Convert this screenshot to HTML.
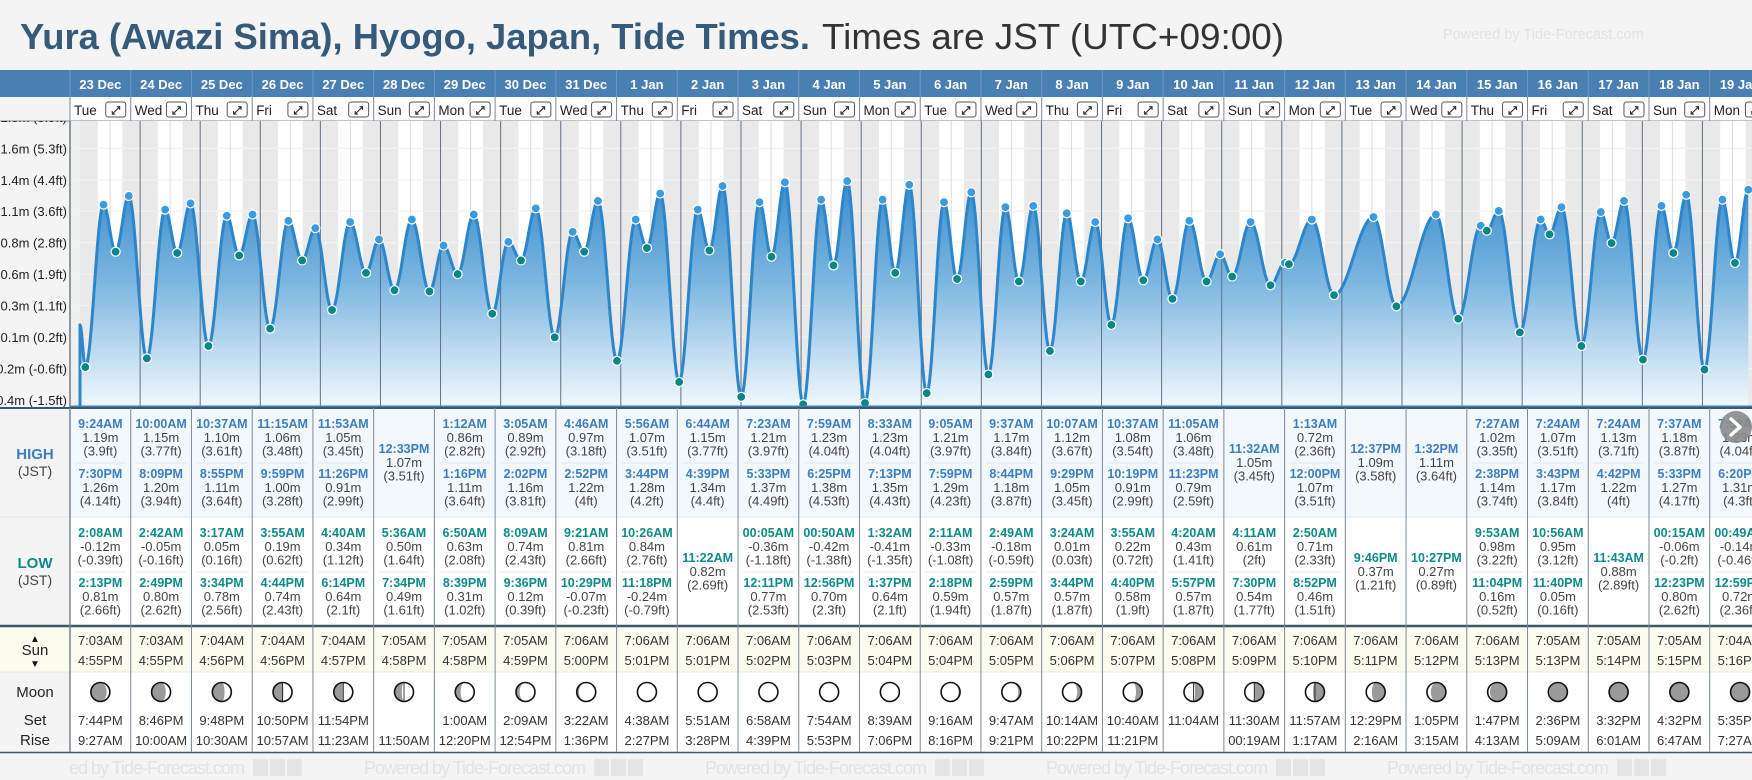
<!DOCTYPE html>
<html><head><meta charset="utf-8"><title>Yura Tide Times</title>
<style>
html,body{margin:0;padding:0;background:#f4f4f4;width:1752px;height:780px;overflow:hidden;font-family:"Liberation Sans",sans-serif;}
svg{display:block}
</style></head>
<body>
<svg id="root" xmlns="http://www.w3.org/2000/svg" width="1752" height="780" viewBox="0 0 1752 780"></svg>
<script>
// ---------- data ----------
const dates = ["23 Dec","24 Dec","25 Dec","26 Dec","27 Dec","28 Dec","29 Dec","30 Dec","31 Dec","1 Jan","2 Jan","3 Jan","4 Jan","5 Jan","6 Jan","7 Jan","8 Jan","9 Jan","10 Jan","11 Jan","12 Jan","13 Jan","14 Jan","15 Jan","16 Jan","17 Jan","18 Jan","19 Jan"];
const weekdays = ["Tue","Wed","Thu","Fri","Sat","Sun","Mon","Tue","Wed","Thu","Fri","Sat","Sun","Mon","Tue","Wed","Thu","Fri","Sat","Sun","Mon","Tue","Wed","Thu","Fri","Sat","Sun","Mon"];
const highTimes = [["9:24AM","7:30PM"],["10:00AM","8:09PM"],["10:37AM","8:55PM"],["11:15AM","9:59PM"],["11:53AM","11:26PM"],["12:33PM"],["1:12AM","1:16PM"],["3:05AM","2:02PM"],["4:46AM","2:52PM"],["5:56AM","3:44PM"],["6:44AM","4:39PM"],["7:23AM","5:33PM"],["7:59AM","6:25PM"],["8:33AM","7:13PM"],["9:05AM","7:59PM"],["9:37AM","8:44PM"],["10:07AM","9:29PM"],["10:37AM","10:19PM"],["11:05AM","11:23PM"],["11:32AM"],["1:13AM","12:00PM"],["12:37PM"],["1:32PM"],["7:27AM","2:38PM"],["7:24AM","3:43PM"],["7:24AM","4:42PM"],["7:37AM","5:33PM"],["7:58AM","6:20PM"]];
const highM = [[1.19,1.26],[1.15,1.20],[1.10,1.11],[1.06,1.00],[1.05,0.91],[1.07],[0.86,1.11],[0.89,1.16],[0.97,1.22],[1.07,1.28],[1.15,1.34],[1.21,1.37],[1.23,1.38],[1.23,1.35],[1.21,1.29],[1.17,1.18],[1.12,1.05],[1.08,0.91],[1.06,0.79],[1.05],[0.72,1.07],[1.09],[1.11],[1.02,1.14],[1.07,1.17],[1.13,1.22],[1.18,1.27],[1.23,1.31]];
const highFt = [["3.9","4.14"],["3.77","3.94"],["3.61","3.64"],["3.48","3.28"],["3.45","2.99"],["3.51"],["2.82","3.64"],["2.92","3.81"],["3.18","4"],["3.51","4.2"],["3.77","4.4"],["3.97","4.49"],["4.04","4.53"],["4.04","4.43"],["3.97","4.23"],["3.84","3.87"],["3.67","3.45"],["3.54","2.99"],["3.48","2.59"],["3.45"],["2.36","3.51"],["3.58"],["3.64"],["3.35","3.74"],["3.51","3.84"],["3.71","4"],["3.87","4.17"],["4.04","4.3"]];
const lowTimes = [["2:08AM","2:13PM"],["2:42AM","2:49PM"],["3:17AM","3:34PM"],["3:55AM","4:44PM"],["4:40AM","6:14PM"],["5:36AM","7:34PM"],["6:50AM","8:39PM"],["8:09AM","9:36PM"],["9:21AM","10:29PM"],["10:26AM","11:18PM"],["11:22AM"],["00:05AM","12:11PM"],["00:50AM","12:56PM"],["1:32AM","1:37PM"],["2:11AM","2:18PM"],["2:49AM","2:59PM"],["3:24AM","3:44PM"],["3:55AM","4:40PM"],["4:20AM","5:57PM"],["4:11AM","7:30PM"],["2:50AM","8:52PM"],["9:46PM"],["10:27PM"],["9:53AM","11:04PM"],["10:56AM","11:40PM"],["11:43AM"],["00:15AM","12:23PM"],["00:49AM","12:59PM"]];
const lowM = [[-0.12,0.81],[-0.05,0.80],[0.05,0.78],[0.19,0.74],[0.34,0.64],[0.50,0.49],[0.63,0.31],[0.74,0.12],[0.81,-0.07],[0.84,-0.24],[0.82],[-0.36,0.77],[-0.42,0.70],[-0.41,0.64],[-0.33,0.59],[-0.18,0.57],[0.01,0.57],[0.22,0.58],[0.43,0.57],[0.61,0.54],[0.71,0.46],[0.37],[0.27],[0.98,0.16],[0.95,0.05],[0.88],[-0.06,0.80],[-0.14,0.72]];
const lowFt = [["-0.39","2.66"],["-0.16","2.62"],["0.16","2.56"],["0.62","2.43"],["1.12","2.1"],["1.64","1.61"],["2.08","1.02"],["2.43","0.39"],["2.66","-0.23"],["2.76","-0.79"],["2.69"],["-1.18","2.53"],["-1.38","2.3"],["-1.35","2.1"],["-1.08","1.94"],["-0.59","1.87"],["0.03","1.87"],["0.72","1.9"],["1.41","1.87"],["2","1.77"],["2.33","1.51"],["1.21"],["0.89"],["3.22","0.52"],["3.12","0.16"],["2.89"],["-0.2","2.62"],["-0.46","2.36"]];
const sunRise = ["7:03AM","7:03AM","7:04AM","7:04AM","7:04AM","7:05AM","7:05AM","7:05AM","7:06AM","7:06AM","7:06AM","7:06AM","7:06AM","7:06AM","7:06AM","7:06AM","7:06AM","7:06AM","7:06AM","7:06AM","7:06AM","7:06AM","7:06AM","7:06AM","7:05AM","7:05AM","7:05AM","7:04AM"];
const sunSet = ["4:55PM","4:55PM","4:56PM","4:56PM","4:57PM","4:58PM","4:58PM","4:59PM","5:00PM","5:01PM","5:01PM","5:02PM","5:03PM","5:04PM","5:04PM","5:05PM","5:06PM","5:07PM","5:08PM","5:09PM","5:10PM","5:11PM","5:12PM","5:13PM","5:13PM","5:14PM","5:15PM","5:16PM"];
const moonSet = ["7:44PM","8:46PM","9:48PM","10:50PM","11:54PM","","1:00AM","2:09AM","3:22AM","4:38AM","5:51AM","6:58AM","7:54AM","8:39AM","9:16AM","9:47AM","10:14AM","10:40AM","11:04AM","11:30AM","11:57AM","12:29PM","1:05PM","1:47PM","2:36PM","3:32PM","4:32PM","5:35PM"];
const moonRise = ["9:27AM","10:00AM","10:30AM","10:57AM","11:23AM","11:50AM","12:20PM","12:54PM","1:36PM","2:27PM","3:28PM","4:39PM","5:53PM","7:06PM","8:16PM","9:21PM","10:22PM","11:21PM","","00:19AM","1:17AM","2:16AM","3:15AM","4:13AM","5:09AM","6:01AM","6:47AM","7:27AM"];
const moonAge = [4.0,5.0,6.0,7.0,7.5,8.5,9.5,10.5,11.5,12.8,13.8,14.8,15.6,16.5,17.4,18.3,19.4,20.5,21.5,22.2,23.1,24.1,25.1,26.2,27.1,28.0,28.8,29.3];
const tickVals = [-0.385,-0.131,0.122,0.376,0.63,0.883,1.137,1.39,1.644,1.897];
const tickLabels = ["-0.4m (-1.5ft)","-0.2m (-0.6ft)","0.1m (0.2ft)","0.3m (1.1ft)","0.6m (1.9ft)","0.8m (2.8ft)","1.1m (3.6ft)","1.4m (4.4ft)","1.6m (5.3ft)","1.8m (5.9ft)"];
const startLevel = 0.22;

// ---------- geometry ----------
const NS = "http://www.w3.org/2000/svg";
const root = document.getElementById('root');
const COL0 = 70, COLW = 60.73;
const CT = 121, CB = 407, CL = 70;
const DAYPX = 60.09, T0X = 80;
function xT(t){ return T0X + t*DAYPX; }
function yV(v){ return 352.2 - 124*v; }
function colX(i){ return COL0 + i*COLW; }
function hrs(s){ const m = s.match(/(\d+):(\d+)(AM|PM)/); let h = (+m[1])%12; if(m[3]==="PM") h+=12; return h + (+m[2])/60; }

function el(tag, attrs, parent){ const e = document.createElementNS(NS, tag); for(const k in attrs) e.setAttribute(k, attrs[k]); (parent||root).appendChild(e); return e; }
function txt(x,y,s,size,weight,fill,anchor,parent){ const t = el('text',{x:x,y:y,'font-size':size,'font-weight':weight,fill:fill,'text-anchor':anchor||'middle','font-family':'Liberation Sans, sans-serif'},parent); t.textContent = s; return t; }

// defs
const defs = el('defs',{});
const grad = el('linearGradient',{id:'fillg',x1:0,y1:160,x2:0,y2:407,gradientUnits:'userSpaceOnUse'},defs);
el('stop',{offset:'0','stop-color':'#2a83c9'},grad);
el('stop',{offset:'0.5','stop-color':'#7db7e0'},grad);
el('stop',{offset:'1','stop-color':'#f2f8fd'},grad);
const clip = el('clipPath',{id:'chartclip'},defs);
el('rect',{x:CL,y:CT,width:1752-CL,height:CB-CT},clip);
const fclip = el('clipPath',{id:'footclip'},defs);
el('rect',{x:CL,y:754,width:1752-CL,height:26},fclip);

// ---------- title ----------
const t1 = txt(20,49,"Yura (Awazi Sima), Hyogo, Japan, Tide Times.",36,'bold','#355a7a','start');
t1.setAttribute('textLength','790'); t1.setAttribute('lengthAdjust','spacingAndGlyphs');


const t2 = txt(822,49,"Times are JST (UTC+09:00)",36,'normal','#333','start');
t2.setAttribute('textLength','462'); t2.setAttribute('lengthAdjust','spacingAndGlyphs');


const wm = txt(1443,39,"Powered by Tide-Forecast.com",14.5,'normal','#e2e2e2','start');



// ---------- header ----------
const hdr = el('rect',{x:0,y:70,width:1752,height:27,fill:'#4a7fb4'});


el('rect',{x:CL,y:97,width:1752-CL,height:24,fill:'#ffffff'});
for(let i=0;i<dates.length;i++){
  const x = colX(i);
  el('line',{x1:x,y1:70,x2:x,y2:97,stroke:'#6f98c4','stroke-width':1});
  el('line',{x1:x,y1:97,x2:x,y2:121,stroke:'#7d8a98','stroke-width':1});
  const d = txt(x+COLW/2,89,dates[i],13,'bold','#ffffff');
  
  
  const w = txt(x+4,115,weekdays[i],13.5,'normal','#222','start');
  
  
  const g = el('g',{});
  
  
  el('rect',{x:x+COLW-25,y:102,width:20,height:15,rx:2.5,fill:'#fff',stroke:'#555','stroke-width':1},g);
  txt(x+COLW-15,114,'⤢',11,'bold','#222','middle',g);
}
el('line',{x1:0,y1:121,x2:1752,y2:121,stroke:'#7d8a98','stroke-width':1});

// ---------- chart background ----------
const chartG = el('g',{'clip-path':'url(#chartclip)'});


el('rect',{x:CL,y:CT,width:1752-CL,height:CB-CT,fill:'#f0f0f0'},chartG);
for(let i=0;i<dates.length;i++){
  const r = hrs(sunRise[i])/24, s = hrs(sunSet[i])/24;
  el('rect',{x:xT(i),y:CT,width:DAYPX,height:CB-CT,fill:'#e9e9e9'},chartG);
  const day = el('rect',{x:xT(i+r),y:CT,width:(s-r)*DAYPX,height:CB-CT,fill:'#ffffff'},chartG);
  
  
}
for(let k=0;k<tickVals.length;k++){
  el('line',{x1:CL,y1:yV(tickVals[k]),x2:1752,y2:yV(tickVals[k]),stroke:'#f3f3f3','stroke-width':1.2},chartG);
}
for(let i=0;i<dates.length;i++){
  el('line',{x1:xT(i+0.5),y1:CT,x2:xT(i+0.5),y2:CB,stroke:'#dcdcdc','stroke-width':1},chartG);
}

// ---------- curve ----------
const pts = [];
for(let i=0;i<dates.length;i++){
  highTimes[i].forEach((h,j)=>pts.push({t:i+hrs(h)/24,v:highM[i][j],hi:true}));
  lowTimes[i].forEach((h,j)=>pts.push({t:i+hrs(h)/24,v:lowM[i][j],hi:false}));
}
pts.sort((a,b)=>a.t-b.t);
const curve = [{t:0,v:startLevel}].concat(pts);
let d = `M${xT(0)},${CB} L${xT(0)},${yV(startLevel)}`;
for(let k=0;k<curve.length-1;k++){
  const a=curve[k], b=curve[k+1];
  const n = Math.max(4, Math.ceil((b.t-a.t)*DAYPX));
  for(let s=1;s<=n;s++){
    const f=s/n, t=a.t+(b.t-a.t)*f, v=a.v+(b.v-a.v)*(1-Math.cos(Math.PI*f))/2;
    d += ` L${xT(t).toFixed(2)},${yV(v).toFixed(2)}`;
  }
}
const last = curve[curve.length-1];
const fillP = el('path',{d:d+` L${xT(last.t)},${CB} Z`,fill:'url(#fillg)',stroke:'none'},chartG);


for(let i=1;i<dates.length;i++){
  el('line',{x1:xT(i),y1:CT,x2:xT(i),y2:CB,stroke:'#5d718a','stroke-width':1},chartG);
}
const lineP = el('path',{d:d,fill:'none',stroke:'#2c86cb','stroke-width':3,'stroke-linejoin':'round'},chartG);


pts.forEach(p=>{
  const c = el('circle',{cx:xT(p.t),cy:yV(p.v),r:4.5,fill:p.hi?'#3a9be0':'#0b8686',stroke:'#fff','stroke-width':1.2},chartG);
  
  
});
el('line',{x1:CL,y1:CB-0.5,x2:1752,y2:CB-0.5,stroke:'#3a82c2','stroke-width':2});
el('line',{x1:CL,y1:CT,x2:CL,y2:CB,stroke:'#6a7a8a','stroke-width':1.5});

// y-axis labels
const yax = el('g',{});


const yclip = el('clipPath',{id:'yclip'},defs);
el('rect',{x:0,y:CT,width:70,height:CB-CT+3},yclip);
yax.setAttribute('clip-path','url(#yclip)');
for(let k=0;k<tickVals.length;k++){
  const l = txt(67,yV(tickVals[k])+5,tickLabels[k],13,'normal','#222','end',yax);
  
  
}

// ---------- table ----------
el('line',{x1:0,y1:408,x2:1752,y2:408,stroke:'#3d5670','stroke-width':2});
el('rect',{x:CL,y:409,width:1752-CL,height:108,fill:'#f3f8fd'});
el('rect',{x:CL,y:517,width:1752-CL,height:109,fill:'#ffffff'});
el('rect',{x:CL,y:627,width:1752-CL,height:45,fill:'#fbfbee'});
el('rect',{x:0,y:627,width:CL,height:45,fill:'#fbfbee'});
el('rect',{x:CL,y:672,width:1752-CL,height:80,fill:'#ffffff'});
el('line',{x1:0,y1:517,x2:1752,y2:517,stroke:'#e6e6e6','stroke-width':1});
el('line',{x1:0,y1:626,x2:1752,y2:626,stroke:'#3d5670','stroke-width':2.5});
el('line',{x1:0,y1:672,x2:1752,y2:672,stroke:'#e8e8e8','stroke-width':1});
el('line',{x1:0,y1:752.5,x2:1752,y2:752.5,stroke:'#3d5670','stroke-width':1.5});
el('line',{x1:CL,y1:408,x2:CL,y2:752,stroke:'#6a7a8a','stroke-width':1.5});

// row labels
let lab;
lab = txt(35,459,'HIGH',15,'bold','#3a7fc1');  
txt(35,476,'(JST)',14,'normal','#444');
lab = txt(35,568,'LOW',15,'bold','#0e8a8a');  
txt(35,585,'(JST)',14,'normal','#444');
txt(35,642,'▲',10,'normal','#111');
lab = txt(35,655,'Sun',15,'normal','#222');  
txt(35,667,'▼',10,'normal','#111');
lab = txt(35,697,'Moon',15,'normal','#222');  
txt(35,725,'Set',15,'normal','#222');
txt(35,745,'Rise',15,'normal','#222');

function entry(cx, yTime, time, m, ft, tcolor, name){
  const g = el('g',{});
  
  
  txt(cx,yTime,time,12.5,'bold',tcolor,'middle',g);
  txt(cx,yTime+14,m.toFixed(2)+'m',13,'normal','#444','middle',g);
  txt(cx,yTime+27.5,'('+ft+'ft)',13,'normal','#444','middle',g);
}
for(let i=0;i<dates.length;i++){
  const x = colX(i), cx = x+COLW/2;
  el('line',{x1:x,y1:408,x2:x,y2:752,stroke:'#7d8a98','stroke-width':1});
  if(highTimes[i].length===2){
    entry(cx,428,highTimes[i][0],highM[i][0],highFt[i][0],'#3a7fc1','high-tide-entry');
    el('line',{x1:x+5,y1:463,x2:x+COLW-5,y2:463,stroke:'#e4e9ee','stroke-width':1});
    entry(cx,478,highTimes[i][1],highM[i][1],highFt[i][1],'#3a7fc1','high-tide-entry');
  } else {
    entry(cx,453,highTimes[i][0],highM[i][0],highFt[i][0],'#3a7fc1','high-tide-entry');
  }
  if(lowTimes[i].length===2){
    entry(cx,537,lowTimes[i][0],lowM[i][0],lowFt[i][0],'#0e8a8a','low-tide-entry');
    el('line',{x1:x+5,y1:572,x2:x+COLW-5,y2:572,stroke:'#eaeaea','stroke-width':1});
    entry(cx,587,lowTimes[i][1],lowM[i][1],lowFt[i][1],'#0e8a8a','low-tide-entry');
  } else {
    entry(cx,562,lowTimes[i][0],lowM[i][0],lowFt[i][0],'#0e8a8a','low-tide-entry');
  }
  let s;
  s = txt(cx,645,sunRise[i],13,'normal','#333');  
  s = txt(cx,665,sunSet[i],13,'normal','#333');  
  s = txt(cx,725,moonSet[i],13,'normal','#333');  
  s = txt(cx,745,moonRise[i],13,'normal','#333');  
  // moon icon
  const mg = el('g',{});
  
  
  const mx = cx, my = 692, r = 9.5;
  el('circle',{cx:mx,cy:my,r:r,fill:'#9a9a9a'},mg);
  const p = moonAge[i]/29.53, k = Math.cos(2*Math.PI*p), rx = Math.abs(k)*r;
  let pd;
  if(p<0.5){ pd = `M${mx},${my-r} A${r},${r} 0 0 1 ${mx},${my+r} A${rx},${r} 0 0 ${k>0?0:1} ${mx},${my-r} Z`; }
  else { pd = `M${mx},${my-r} A${r},${r} 0 0 0 ${mx},${my+r} A${rx},${r} 0 0 ${k>0?1:0} ${mx},${my-r} Z`; }
  el('path',{d:pd,fill:'#ffffff'},mg);
  el('line',{x1:mx,y1:my-r,x2:mx,y2:my+r,stroke:'#111','stroke-width':0.8,opacity:(Math.abs(k)<0.25?1:0)},mg);
  el('circle',{cx:mx,cy:my,r:r,fill:'none',stroke:'#111','stroke-width':1.6},mg);
}

// footer
el('rect',{x:0,y:754,width:1752,height:26,fill:'#f4f4f4'});
const fg = el('g',{'clip-path':'url(#footclip)'});


for(let k=0;k<5;k++){
  const fx = 23 + k*341;
  const f = txt(fx,774,'Powered by Tide-Forecast.com',18,'normal','#e2e2e2','start',fg);
  f.setAttribute('textLength','222');
  
  
  for(let j=0;j<3;j++) el('rect',{x:fx+230+j*17,y:759,width:15,height:17,fill:'#e4e4e4'},fg);
}
// next button
const nb = el('g',{});


el('circle',{cx:1736,cy:427,r:16,fill:'#8a8a8a',opacity:0.9},nb);
el('path',{d:'M1731,419 L1740,427 L1731,435',fill:'none',stroke:'#fff','stroke-width':3.5,'stroke-linecap':'round','stroke-linejoin':'round'},nb);
</script>
</body></html>
